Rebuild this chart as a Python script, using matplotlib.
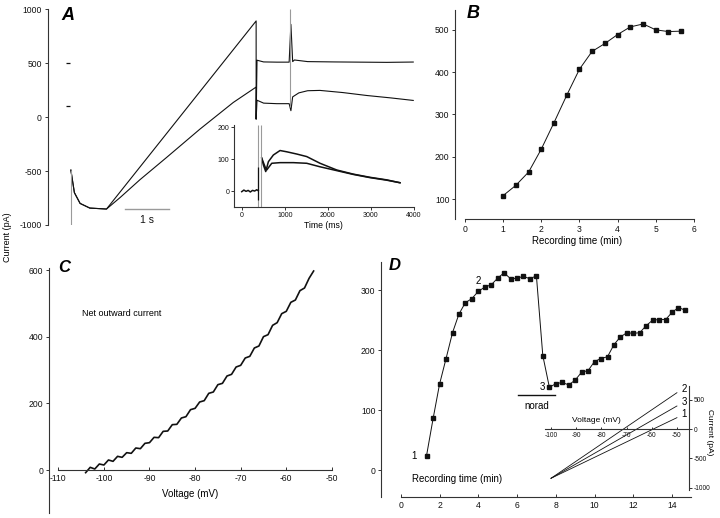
import numpy as np
import matplotlib
matplotlib.use("Agg")
import matplotlib.pyplot as plt

W, H = 720, 518
plt.rcParams['font.family'] = ['Liberation Sans', 'DejaVu Sans']
plt.rcParams['axes.linewidth'] = 0.8
plt.rcParams['axes.unicode_minus'] = False
plt.rcParams['xtick.major.width'] = 0.7
plt.rcParams['ytick.major.width'] = 0.7

INK = '#111111'
AXC = '#333333'
GRAY = '#9a9a9a'
TICK_FS = 6.2

# ---- Panel A: ramp currents (time in s, current in pA)
a_t_up = [0.02, 0.1, 0.23, 0.45, 0.83, 4.23, 4.23, 4.25, 4.4, 4.7, 4.98, 5.02, 5.06, 5.1, 5.4, 6.0, 6.6, 7.2, 7.8]
a_i_up = [-491, -700, -800, -843, -852, 892, -18, 528, 512, 510, 510, 860, 515, 530, 515, 512, 510, 508, 511]
a_t_lo = [0.02, 0.1, 0.23, 0.45, 0.83, 1.14, 1.59, 2.2, 2.95, 3.71, 4.23, 4.23, 4.25, 4.4, 4.7, 4.98,
          5.02, 5.06, 5.2, 5.4, 5.68, 6.2, 6.74, 7.3, 7.8]
a_i_lo = [-491, -700, -800, -843, -852, -745, -580, -372, -112, 136, 279, -18, 157, 130, 125, 125,
          60, 188, 225, 245, 248, 228, 201, 178, 155]
a_yticks = [-1000, -500, 0, 500, 1000]

# inset of A (time in ms, current in pA)
ins_t_base = [0, 50, 100, 150, 200, 250, 300, 350, 385]
ins_i_base = [-2, 3, -1, 2, -3, 2, 0, 4, 1]
ins_t_up = [465, 503, 558, 620, 736, 891, 1047, 1279, 1512, 1821, 2209, 2595, 2984, 3372, 3681]
ins_i_up = [103, 82, 61, 92, 113, 127, 123, 116, 108, 87, 66, 53, 43, 35, 26]
ins_t_lo = [465, 542, 581, 698, 891, 1200, 1512, 1821, 2209, 2595, 2984, 3372, 3681]
ins_i_lo = [103, 76, 66, 87, 89, 89, 87, 76, 64, 52, 42, 34, 26]
ins_xticks = [0, 1000, 2000, 3000, 4000]
ins_yticks = [0, 100, 200]

# ---- Panel B
b_time = [1.0, 1.33, 1.67, 2.0, 2.33, 2.67, 3.0, 3.33, 3.67, 4.0, 4.33, 4.67, 5.0, 5.33, 5.67]
b_current = [108, 132, 164, 218, 280, 346, 407, 449, 468, 489, 507, 514, 500, 496, 497]

# ---- Panel C: net outward current vs voltage
c_volt = list(range(-104, -53))
c_current = [-8, 8, 3, 18, 15, 30, 26, 41, 38, 52, 50, 66, 64, 80, 82, 98, 97, 116, 117, 136,
             137, 156, 160, 181, 185, 204, 208, 230, 234, 256, 260, 282, 287, 309, 314, 336,
             341, 366, 372, 400, 406, 434, 442, 469, 476, 503, 510, 538, 546, 575, 597]

# ---- Panel D
d_time = [1.33, 1.67, 2.0, 2.33, 2.67, 3.0, 3.33, 3.67, 4.0, 4.33, 4.67, 5.0, 5.33, 5.67, 6.0,
          6.33, 6.67, 7.0, 7.33, 7.67, 8.0, 8.33, 8.67, 9.0, 9.33, 9.67, 10.0, 10.33, 10.67,
          11.0, 11.33, 11.67, 12.0, 12.33, 12.67, 13.0, 13.33, 13.67, 14.0, 14.33, 14.65]
d_current = [24, 86, 143, 185, 229, 260, 279, 286, 298, 305, 309, 320, 329, 319, 320, 323, 319,
             324, 191, 138, 144, 146, 142, 150, 163, 166, 181, 186, 189, 209, 222, 229, 228,
             229, 241, 250, 251, 251, 263, 271, 267]
norad_span = [6.07, 7.96]

# inset of D: I-V relations at times 1, 2, 3
iv_volt = [-100, -50]
iv_1 = [-835, 192]
iv_2 = [-835, 615]
iv_3 = [-835, 390]
iv_xticks = [-100, -90, -80, -70, -60, -50]
iv_yticks = [-1000, -500, 0, 500]


def px_axes(fig, x0, y0, x1, y1):
    return fig.add_axes([x0 / W, 1 - y1 / H, (x1 - x0) / W, (y1 - y0) / H])


def ftext(fig, x, y, s, **kw):
    fig.text(x / W, 1 - y / H, s, **kw)


def style(ax):
    ax.patch.set_visible(False)
    for sp in ax.spines.values():
        sp.set_color(AXC)
    ax.tick_params(colors=AXC, labelcolor=INK, labelsize=TICK_FS, length=2.5, pad=1.5)


fig = plt.figure(figsize=(W / 100, H / 100), dpi=100)

# ================= A =================
axA = px_axes(fig, 47.5, 9.3, 415, 225)
style(axA)
axA.set_xlim(-0.511, 7.84)
axA.set_ylim(-1000, 1000)
for s in ['top', 'right', 'bottom']:
    axA.spines[s].set_visible(False)
axA.set_xticks([])
axA.set_yticks(a_yticks)
axA.plot(a_t_up, a_i_up, color=INK, lw=0.8)
axA.plot(a_t_lo, a_i_lo, color=INK, lw=0.8)
axA.vlines(0.02, -1000, -491, color=GRAY, lw=0.8)
axA.vlines(5.0, 95, 1000, color=GRAY, lw=0.8)
axA.plot([-0.045, -0.045], [500, 105], ls='none', marker='_', ms=2.5, color=INK, mew=0.9)
axA.plot([1.25, 2.25], [-855, -855], color=GRAY, lw=1.0)
axA.text(1.75, -905, '1 s', ha='center', va='top', fontsize=7.5, color=INK)
ftext(fig, 68, 16, 'A', fontsize=13, fontweight='bold', fontstyle='italic', ha='center', va='center')

axI = px_axes(fig, 234, 125, 413.7, 207.3)
style(axI)
axI.set_xlim(-180, 4000)
axI.set_ylim(-51, 207)
axI.spines['top'].set_visible(False)
axI.spines['right'].set_visible(False)
axI.set_xticks(ins_xticks)
axI.set_yticks(ins_yticks)
axI.tick_params(labelsize=5.0, length=2, pad=1.5)
axI.plot(ins_t_base, ins_i_base, color=INK, lw=1.1)
axI.plot(ins_t_up, ins_i_up, color=INK, lw=1.1)
axI.plot(ins_t_lo, ins_i_lo, color=INK, lw=1.1)
axI.vlines([380, 449], -51, 207, color=GRAY, lw=0.8)
axI.vlines(387, -28, 76, color=INK, lw=0.9)
axI.set_xlabel('Time (ms)', fontsize=6.2, labelpad=1.5)

# ================= B =================
axB = px_axes(fig, 455, 10, 694, 219)
style(axB)
axB.set_xlim(-0.26, 6.0)
axB.set_ylim(52.7, 547)
axB.spines['top'].set_visible(False)
axB.spines['right'].set_visible(False)
axB.spines['bottom'].set_bounds(0, 6)
axB.set_xticks(range(0, 7))
axB.set_yticks([100, 200, 300, 400, 500])
axB.plot(b_time, b_current, color=INK, lw=0.7, marker='s', ms=3, mfc=INK, mec=INK)
ftext(fig, 577, 241, 'Recording time (min)', fontsize=7, ha='center', va='center')
ftext(fig, 473, 13, 'B', fontsize=13, fontweight='bold', fontstyle='italic', ha='center', va='center')

# ================= C =================
axC = px_axes(fig, 49, 268, 332, 513)
style(axC)
axC.set_xlim(-112.04, -49.97)
axC.set_ylim(-129, 606)
axC.spines['top'].set_visible(False)
axC.spines['right'].set_visible(False)
axC.spines['bottom'].set_position(('data', 0))
axC.spines['bottom'].set_bounds(-110, -50)
axC.set_xticks(range(-110, -49, 10))
axC.set_yticks([0, 200, 400, 600])
axC.tick_params(axis='x', direction='in', pad=3)
axC.plot(c_volt, c_current, color=INK, lw=1.2)
axC.text(-104.7, 470, 'Net outward current', fontsize=6.5, ha='left', va='center')
ftext(fig, 190, 494, 'Voltage (mV)', fontsize=7, ha='center', va='center')
ftext(fig, 64, 268, 'C', fontsize=12, fontweight='bold', fontstyle='italic', ha='center', va='center')

ftext(fig, 8, 237, 'Current (pA)', fontsize=6.5, rotation=90, ha='center', va='center')

# ================= D =================
axD = px_axes(fig, 381, 262, 692, 497)
style(axD)
axD.set_xlim(-1.02, 15.03)
axD.set_ylim(-45, 347)
axD.spines['top'].set_visible(False)
axD.spines['right'].set_visible(False)
axD.spines['bottom'].set_bounds(0, 15)
axD.set_xticks(range(0, 15, 2))
axD.set_yticks([0, 100, 200, 300])
axD.tick_params(axis='x', direction='in', pad=3)
axD.plot(d_time, d_current, color=INK, lw=0.7, marker='s', ms=3, mfc=INK, mec=INK)
axD.plot(norad_span, [125, 125], color=INK, lw=1.0)
axD.text(np.mean(norad_span), 106, 'norad', fontsize=7, ha='center', va='center')
axD.text(d_time[0] - 0.5, d_current[0], '1', fontsize=7, ha='right', va='center')
axD.text(4.0, 315, '2', fontsize=7, ha='center', va='center')
axD.text(7.3, 138, '3', fontsize=7, ha='center', va='center')
axD.text(0.6, -15, 'Recording time (min)', fontsize=7, ha='left', va='center')
ftext(fig, 395, 266, 'D', fontsize=12, fontweight='bold', fontstyle='italic', ha='center', va='center')

axV = px_axes(fig, 545, 386, 689, 490)
style(axV)
axV.set_xlim(-102.4, -45.2)
axV.set_ylim(-1034, 729)
axV.spines['top'].set_visible(False)
axV.spines['left'].set_visible(False)
axV.spines['bottom'].set_position(('data', 0))
axV.yaxis.tick_right()
axV.set_xticks(iv_xticks)
axV.set_yticks(iv_yticks)
axV.tick_params(labelsize=4.8, length=1.8, pad=1.5)
axV.tick_params(axis='x', direction='in', pad=2.5)
axV.plot(iv_volt, iv_1, color=INK, lw=0.6)
axV.plot(iv_volt, iv_2, color=INK, lw=0.6)
axV.plot(iv_volt, iv_3, color=INK, lw=0.6)
for lab, vals in (('1', iv_1), ('2', iv_2), ('3', iv_3)):
    axV.text(-48.2, vals[-1] + 60, lab, fontsize=7, ha='left', va='center')
axV.text(-82, 150, 'Voltage (mV)', fontsize=6, ha='center', va='center')
ftext(fig, 709, 432, 'Current (pA)', fontsize=6, rotation=270, ha='center', va='center')

fig.savefig('out.png', dpi=100)
